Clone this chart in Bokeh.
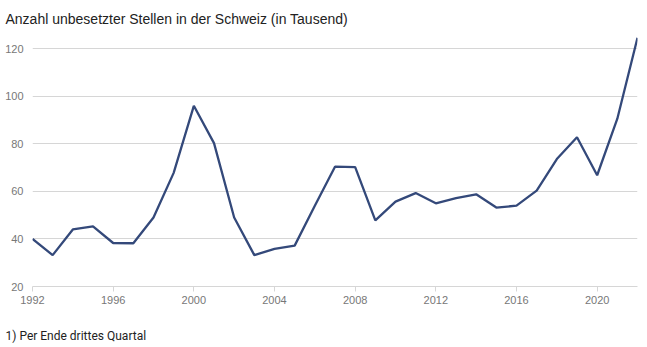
from bokeh.plotting import figure
from bokeh.models import Range1d, FixedTicker, Title, ColumnDataSource
from bokeh.embed import file_html
from bokeh.resources import INLINE

years = list(range(1992, 2023))
values = [40, 33.2, 44, 45.3, 38.3, 38.2, 49, 67.8, 96, 80.3, 49, 33.2, 35.8, 37.2,
          54, 70.4, 70.2, 47.8, 55.7, 59.3, 55, 57.2, 58.8, 53.2, 54, 60.3,
          73.6, 82.8, 66.8, 90.6, 124.6]
x_ticks = [1992, 1996, 2000, 2004, 2008, 2012, 2016, 2020]
y_ticks = [20, 40, 60, 80, 100, 120]
title_text = "Anzahl unbesetzter Stellen in der Schweiz (in Tausend)"
footnote_text = "1) Per Ende drittes Quartal"

src = ColumnDataSource(dict(year=years, value=values))

p = figure(width=647, height=347, output_backend="svg", toolbar_location=None,
           x_range=Range1d(1992, 2022), y_range=Range1d(20, 126),
           min_border_left=32, min_border_right=10, min_border_top=0, min_border_bottom=59)
p.outline_line_color = None
p.background_fill_color = "white"

p.title.text = title_text
p.title.align = "left"
p.title.text_font = "Liberation Sans"
p.title.text_font_size = "14px"
p.title.text_font_style = "normal"
p.title.text_color = "#222222"
p.title.offset = -27
p.title.standoff = 16

spacer = Title(text=" ", text_font_size="1px", standoff=12)
p.add_layout(spacer, "below")

foot = Title(text=footnote_text, align="left", text_font="Roboto",
             text_font_size="12px", text_font_style="normal", text_color="#222222",
             offset=-27, standoff=10)
p.add_layout(foot, "below")

p.line("year", "value", source=src, line_color="#34497a", line_width=2.3)

p.xaxis.ticker = FixedTicker(ticks=x_ticks)
p.yaxis.ticker = FixedTicker(ticks=y_ticks)
p.xgrid.grid_line_color = None
p.ygrid.grid_line_color = "#d6d6d6"
p.ygrid.grid_line_width = 1

p.yaxis.axis_line_color = None
p.yaxis.major_tick_line_color = None
p.yaxis.minor_tick_line_color = None
p.yaxis.major_label_standoff = 3

p.xaxis.axis_line_color = "#d6d6d6"
p.xaxis.major_tick_line_color = "#d6d6d6"
p.xaxis.major_tick_in = 0
p.xaxis.major_tick_out = 5
p.xaxis.minor_tick_line_color = None
p.xaxis.major_label_standoff = 4

for ax in (p.xaxis, p.yaxis):
    ax.major_label_text_font = "Liberation Sans"
    ax.major_label_text_font_size = "11px"
    ax.major_label_text_color = "#777777"

open("out.html", "w").write(file_html(p, INLINE))
